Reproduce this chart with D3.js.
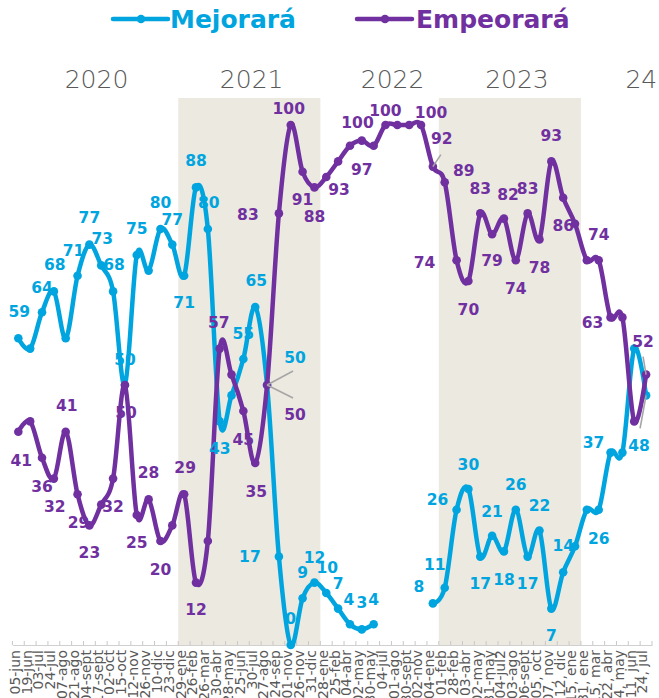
<!DOCTYPE html>
<html><head><meta charset="utf-8">
<script src="https://cdnjs.cloudflare.com/ajax/libs/d3/7.8.5/d3.min.js"></script>
<style>
html,body{margin:0;padding:0;background:#fff;overflow:hidden;}
svg{display:block;}
</style></head>
<body>
<svg id="chart" width="659" height="698"></svg>
<script>
// ---------- DATA ----------
const categories = ["05-jun","19-jun","03-jul","24-jul","07-ago","21-ago","04-sept","17-sept","02-oct","15-oct","12-nov","26-nov","10-dic","23-dic",
"29-ene","26-feb","26-mar","30-abr","28-may","25-jun","30-jul","27-ago","24-sep","01-nov","26-nov","31-dic",
"28-ene","25-feb","04-abr","02-may","30-may","04-jul","01-ago","30-sept","02-nov","04-ene",
"01-feb","28-feb","03-abr","02-may","31-may","04-jul2","03-ago","06-sept","05, oct","07, nov","12, dic","15, ene",
"31, ene","15, mar","22, abr","24, may","11, jun","24, jul"];

const mejorara = [59,57,64,68,59,71,77,73,68,50,75,72,80,77,71,88,80,43,48,55,65,50,17,0,9,12,10,7,4,3,4,null,null,null,null,8,11,26,30,17,21,18,26,17,22,7,14,19,26,26,37,37,57,48];
const empeorara = [41,43,36,32,41,29,23,27,32,50,25,28,20,23,29,12,20,57,52,45,35,50,83,100,91,88,90,93,96,97,96,100,100,100,100,92,89,74,70,83,79,82,74,83,78,93,86,81,74,74,63,63,43,52];

const seriesNames = ["Mejorará","Empeorará"];
const yearLabels = ["2020","2021","2022","2023","24"];
const yearPositions = [6.6,19.7,31.6,42.1,52.6];      // category index of year label centre
const shadedSpans = [[14,25],[36,47]];                // category index spans

// data-label placement: [index, dx, dy, leaderDx, leaderDy]
const mejLabels = [[0,1,-27],[2,0,-25],[3,1,-27],[5,-4,-25],[6,0,-27],[7,1,-27],[8,1,-27],[9,0,-26],[10,0,-27],[12,0,-27],[13,0,-25],[14,0,27],[15,0,-27],[16,1,-27],[17,0,27],[19,0,-26],[20,1,-27],
  [21,28,-28,26,-14],[22,-29,0],[23,0,-27],[24,0,-26],[25,0,-25],[26,1,-26],[27,0,-25],[28,-1,-25],[29,0,-27],[30,0,-25],
  [35,-14,-17],[36,-10,-23],[37,-19,-10],[38,0,-25],[39,0,27],[40,0,-24],[41,0,28],[42,0,-25],[43,0,27],[44,0,-25],[45,0,27],[46,0,-27],[49,0,29],[50,-17,-10],[53,-7,50,-6,33]];
const empLabels = [[0,3,29],[2,0,29],[3,1,28],[4,1,-26],[5,1,28],[6,0,27],[8,0,28],[9,1,27],[10,0,27],[11,0,-27],[12,0,28],[14,1,-27],[15,0,27],[17,-1,-26],[19,0,28],[20,1,28],
  [21,28,29,26,13],[22,-31,1],[23,-2,-17],[24,0,28],[25,0,29],[27,1,28],[29,0,29],[31,-28,-3],[32,-12,-15],[34,10,-13],
  [35,9,-28,8,-12],[36,19,-12],[37,-32,2],[38,0,28],[39,0,-25],[40,0,26],[41,4,-24],[42,0,28],[43,0,-25],[44,0,28],[45,0,-26],[46,0,28],[49,0,-26],[50,-18,5],[53,-3,-33,-3,-18]];

// ---------- STYLE ----------
const colors = ["#00A5DF","#7030A0"];
const svg = d3.select("#chart");

const x = d3.scaleBand().domain(d3.range(categories.length)).range([12.4, 652]).paddingInner(0).paddingOuter(0);
const cx = i => x.range()[0] + x.step()*(i+0.5);
const y = d3.scaleLinear().domain([0,100]).range([645,125]);

// shaded bands
svg.append("g").selectAll("rect").data(shadedSpans).join("rect")
  .attr("x", d => x(d[0])).attr("width", d => x(d[1]) + x.bandwidth() - x(d[0]))
  .attr("y", 98).attr("height", y(0) - 98)
  .attr("fill", "#ECE9E0");

// year labels
svg.append("g").selectAll("text").data(yearLabels).join("text")
  .attr("x", (d,i) => cx(yearPositions[i])).attr("y", 88)
  .attr("text-anchor","middle")
  .style("font-family","'DejaVu Sans', sans-serif").style("font-weight","300").style("font-size","25px")
  .attr("fill","#595959").text(d => d);

// x axis
const axis = d3.axisBottom(x).tickSize(0).tickFormat(i => categories[i]);
const gx = svg.append("g").attr("transform", `translate(0,${y(0)})`).call(axis);
gx.select(".domain").attr("stroke","#D0D0D0").attr("stroke-width",1.2);
gx.selectAll(".tick text")
  .attr("transform","rotate(-90)")
  .attr("text-anchor","end")
  .attr("x",-5).attr("y",0).attr("dy","0.1em")
  .attr("fill","#595959")
  .style("font-family","'DejaVu Sans', sans-serif").style("font-size","14px");
// boundary ticks
gx.append("g").selectAll("line").data(d3.range(categories.length+1)).join("line")
  .attr("x1", i => x.range()[0] + i*x.step()).attr("x2", i => x.range()[0] + i*x.step())
  .attr("y1", 0).attr("y2", -4).attr("stroke","#C8C8C8").attr("stroke-width",1);

// lines
const series = [mejorara, empeorara];
const line = d3.line()
  .defined(d => d != null)
  .x((d,i) => cx(i)).y(d => y(d))
  .curve(d3.curveCardinal.tension(0));

series.forEach((vals, s) => {
  svg.append("path").datum(vals)
    .attr("d", line).attr("fill","none")
    .attr("stroke", colors[s]).attr("stroke-width",4.5)
    .attr("stroke-linejoin","round").attr("stroke-linecap","round");
  svg.append("g").selectAll("circle")
    .data(vals.map((v,i)=>({v,i})).filter(d => d.v != null))
    .join("circle")
    .attr("cx", d => cx(d.i)).attr("cy", d => y(d.v)).attr("r",4.3)
    .attr("fill", colors[s]);
});

// leader lines + data labels
const labelSets = [mejLabels, empLabels];
labelSets.forEach((set, s) => {
  const vals = series[s];
  const g = svg.append("g");
  set.forEach(([i,dx,dy,lx,ly]) => {
    const px = cx(i), py = y(vals[i]);
    if (lx !== undefined) {
      g.append("line").attr("x1",px).attr("y1",py).attr("x2",px+lx).attr("y2",py+ly)
        .attr("stroke","#A6A6A6").attr("stroke-width",1.6);
    }
    g.append("text")
      .attr("x", px+dx).attr("y", py+dy).attr("dy","0.36em")
      .attr("text-anchor","middle")
      .style("font-family","'DejaVu Sans', sans-serif").style("font-weight","bold").style("font-size","15.5px")
      .attr("fill", colors[s]).text(vals[i]);
  });
});

// legend
const legendItems = [{lx:113, tx:170}, {lx:357, tx:416}];
legendItems.forEach((p, s) => {
  svg.append("line").attr("x1",p.lx).attr("x2",p.lx+55).attr("y1",19).attr("y2",19)
    .attr("stroke",colors[s]).attr("stroke-width",4.5).attr("stroke-linecap","round");
  svg.append("circle").attr("cx",p.lx+28).attr("cy",19).attr("r",4.3).attr("fill",colors[s]);
  svg.append("text").attr("x",p.tx).attr("y",28)
    .style("font-family","'DejaVu Sans', sans-serif").style("font-weight","bold").style("font-size","25px")
    .attr("fill",colors[s]).text(seriesNames[s]);
});
</script>
</body></html>
